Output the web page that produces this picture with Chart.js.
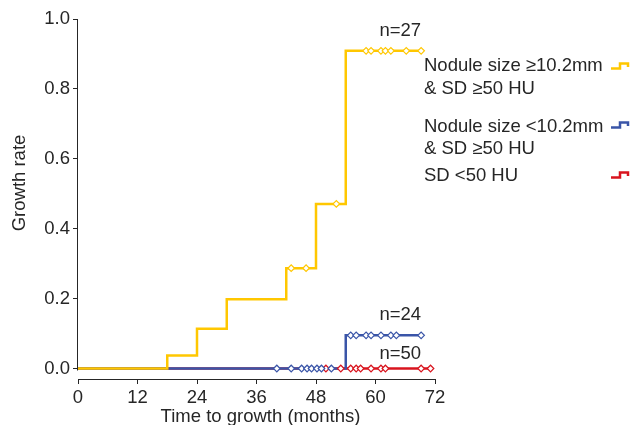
<!DOCTYPE html>
<html>
<head>
<meta charset="utf-8">
<script src="https://cdn.jsdelivr.net/npm/chart.js@4/dist/chart.umd.min.js"></script>
<style>
  html, body { margin: 0; padding: 0; background: #fff; }
  #wrap { width: 630px; height: 425px; }
</style>
</head>
<body>
<div id="wrap"><canvas id="km"></canvas></div>
<script>
// step curves (time in months, cumulative growth rate)
const bigTimes = [0, 18, 24, 30, 42, 48, 54, 69.2];
const bigRates = [0, 0.037, 0.114, 0.198, 0.287, 0.471, 0.909, 0.909];
const smallTimes = [0, 54, 69.2];
const smallRates = [0, 0.095, 0.095];
const lowTimes = [0, 71.1];
const lowRates = [0, 0];

// censored cases
const bigCensT = [43, 46, 52.1, 58.1, 59.1, 61.1, 62, 63.1, 66.2, 69.2];
const bigCensY = [0.287, 0.287, 0.471, 0.909, 0.909, 0.909, 0.909, 0.909, 0.909, 0.909];
const smallCensT = [40.1, 43, 45.1, 46.2, 47.1, 48.2, 49.1, 51.1, 55, 56.1, 58.1, 59.1, 61.1, 63.1, 64.2, 69.2];
const smallCensY = [0, 0, 0, 0, 0, 0, 0, 0, 0.095, 0.095, 0.095, 0.095, 0.095, 0.095, 0.095, 0.095];
const lowCensT = [50, 53, 55, 56.1, 57, 59.1, 61.1, 62, 69.2, 71.1];
const lowCensY = [0, 0, 0, 0, 0, 0, 0, 0, 0, 0];

const xTicks = [0, 12, 24, 36, 48, 60, 72];
const yTicks = [0, 0.2, 0.4, 0.6, 0.8, 1.0];

const groupNames = [
  ['Nodule size \u226510.2mm', '& SD \u226550 HU'],
  ['Nodule size <10.2mm', '& SD \u226550 HU'],
  ['SD <50 HU']
];
const groupN = ['n=27', 'n=24', 'n=50'];

const YELLOW = '#ffc700';
const BLUE = '#3a55a8';
const RED = '#d9141e';
const INK = '#262626';
const FONT = 'Liberation Sans, Arial, Helvetica, sans-serif';
const FS = 18.5;

function pts(xs, ys) {
  return xs.map((x, i) => ({ x: x, y: ys[i] }));
}

function curve(xs, ys, color, order) {
  return {
    type: 'line', data: pts(xs, ys), borderColor: color, borderWidth: 2.5,
    stepped: true, pointRadius: 0, fill: false, order: order
  };
}

function censored(xs, ys, color) {
  return {
    type: 'scatter', data: pts(xs, ys), borderColor: color, backgroundColor: '#fff',
    pointStyle: 'rectRot', pointRadius: 3.3, borderWidth: 1.2, order: 0
  };
}

// where the n= labels and legend sit (pixels / data)
const nLabelPos = [[65, 0.966], [65, 0.153], [65, 0.041]];
const legendX = 424;
const legendRows = [[66, 89], [127, 149], [176]];
const iconY = [66, 125, 175];
const colors = [YELLOW, BLUE, RED];

const extras = {
  id: 'extras',
  afterDraw(chart) {
    const ctx = chart.ctx;
    const xs = chart.scales.x, ys = chart.scales.y;
    ctx.save();
    // y axis line, stops at 0
    ctx.strokeStyle = INK;
    ctx.lineWidth = 1;
    const ax = Math.round(xs.left) - 0.5;
    ctx.beginPath();
    ctx.moveTo(ax, ys.getPixelForValue(1.0));
    ctx.lineTo(ax, ys.getPixelForValue(0) + 2);
    ctx.stroke();

    ctx.fillStyle = INK;
    ctx.font = FS + 'px ' + FONT;
    ctx.textAlign = 'center';
    ctx.textBaseline = 'middle';

    // axis titles
    ctx.fillText('Time to growth (months)', (xs.left + xs.right) / 2 + 4, 417);
    ctx.save();
    ctx.translate(20, 183);
    ctx.rotate(-Math.PI / 2);
    ctx.fillText('Growth rate', 0, 0);
    ctx.restore();

    groupN.forEach((t, i) => {
      ctx.fillText(t, xs.getPixelForValue(nLabelPos[i][0]), ys.getPixelForValue(nLabelPos[i][1]));
    });

    ctx.textAlign = 'left';
    groupNames.forEach((lines, g) => {
      lines.forEach((line, k) => ctx.fillText(line, legendX, legendRows[g][k]));
      // little step icon
      const y = iconY[g];
      ctx.strokeStyle = colors[g];
      ctx.lineWidth = 2.5;
      ctx.beginPath();
      ctx.moveTo(611, y + 2.5);
      ctx.lineTo(620, y + 2.5);
      ctx.lineTo(620, y - 2.5);
      ctx.lineTo(628, y - 2.5);
      ctx.lineTo(628, y + 1);
      ctx.stroke();
    });
    ctx.restore();
  }
};

new Chart(document.getElementById('km'), {
  data: {
    datasets: [
      censored(bigCensT, bigCensY, YELLOW),
      censored(smallCensT, smallCensY, BLUE),
      censored(lowCensT, lowCensY, RED),
      curve(bigTimes, bigRates, YELLOW, 1),
      curve(smallTimes, smallRates, BLUE, 2),
      curve(lowTimes, lowRates, RED, 3)
    ]
  },
  options: {
    responsive: true,
    maintainAspectRatio: false,
    animation: false,
    layout: { padding: { top: 19, right: 195, left: 0, bottom: 0 } },
    plugins: { legend: { display: false }, tooltip: { enabled: false } },
    scales: {
      x: {
        type: 'linear', min: 0, max: 72,
        afterBuildTicks: s => { s.ticks = xTicks.map(v => ({ value: v })); },
        afterFit: s => { s.height = 46; },
        ticks: { color: INK, font: { size: FS, family: FONT }, padding: 3 },
        grid: { drawOnChartArea: false, drawTicks: true, tickLength: 5, color: INK },
        border: { display: true, color: INK, width: 1 },
        title: { display: false }
      },
      y: {
        type: 'linear', min: -0.03, max: 1.0,
        afterBuildTicks: s => { s.ticks = yTicks.map(v => ({ value: v })); },
        afterFit: s => { s.width = 78; },
        ticks: { color: INK, font: { size: FS, family: FONT }, padding: 3,
                 callback: v => v.toFixed(1) },
        grid: { drawOnChartArea: false, drawTicks: true, tickLength: 5, color: INK },
        border: { display: false },
        title: { display: false }
      }
    }
  },
  plugins: [extras]
});
</script>
</body>
</html>
